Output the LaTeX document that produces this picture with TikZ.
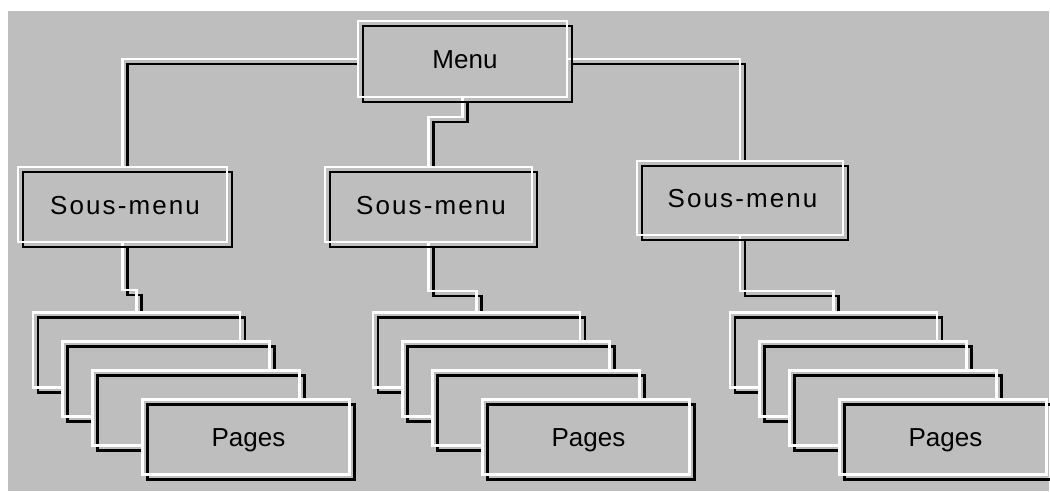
\documentclass[tikz,border=0pt]{standalone}
\usepackage{fontspec}
\setmainfont{Liberation Sans}
\newfontfamily\widesans[LetterSpace=8]{Liberation Sans}
\definecolor{panel}{HTML}{BEBEBE}
\pgfdeclarelayer{back}
\pgfdeclarelayer{wires}
\pgfsetlayers{back,wires,main}
\tikzset{
  etch/.style={draw=white, line width=2.5pt,
    preaction={draw=black, line width=2.5pt, transform canvas={shift={(5pt,-5pt)}}}},
  box/.style={preaction={fill=panel}, etch, rectangle, inner sep=0pt, outer sep=0pt,
    minimum width=207pt, minimum height=75pt,
    font=\fontsize{26pt}{30pt}\selectfont,
    text height=19pt, text depth=-5pt,
    execute at begin node={\hspace*{5pt}}},
  wire/.style={etch},
}
\begin{document}
\begin{tikzpicture}[x=1pt,y=-1pt]
  \useasboundingbox (0,0) rectangle (1050,491);
  \begin{pgfonlayer}{back}
    \fill[white] (0,0) rectangle (1050,491);
    \fill[panel] (8,11) rectangle (1049,491);
  \end{pgfonlayer}

  % top level
  \node[box, minimum width=209pt, minimum height=76pt] (menu) at (462.5,59) {Menu};

  % sub-menus
  \node[box, minimum width=209pt] (s1) at (122.5,204.5) {\widesans Sous-menu};
  \node[box] (s2) at (428.5,204.5) {\widesans Sous-menu};
  \node[box, minimum width=206pt, minimum height=74pt] (s3) at (740,198) {\widesans Sous-menu};

  % stacks of pages
  \foreach \c/\x in {1/136.5, 2/476.5, 3/833.5} {
    \node[box] (p\c a) at (\x,350) {};
    \node[box] (p\c b) at (\x+29.5,379) {};
    \node[box] (p\c c) at (\x+59.5,408) {};
    \node[box] (p\c d) at (\x+109.5,437) {Pages};
  }

  % connectors
  \begin{pgfonlayer}{wires}
    \draw[wire] (menu.west) -| (s1.north);
    \draw[wire] (menu.east) -| (s3.north);
    \draw[wire] (menu.south) -- ++(0,20) -| (s2.north);
    \draw[wire] (s1.south) -- ++(0,48) -| (p1a.north);
    \draw[wire] (s2.south) -- ++(0,49) -| (p2a.north);
    \draw[wire] (s3.south) -- ++(0,56) -| (p3a.north);
  \end{pgfonlayer}
\end{tikzpicture}
\end{document}
